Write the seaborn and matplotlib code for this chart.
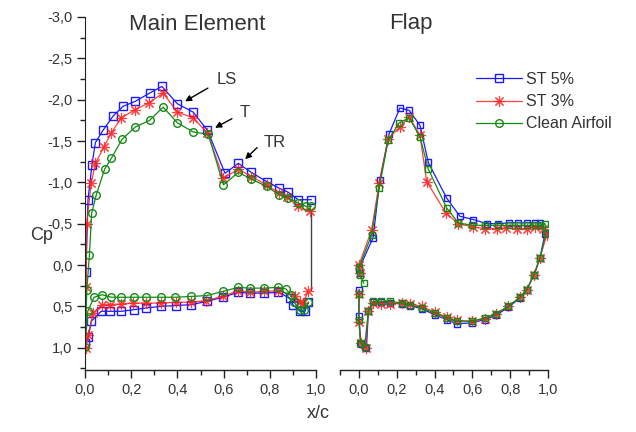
import matplotlib
matplotlib.use("Agg")
import matplotlib.pyplot as plt
import seaborn as sns
import pandas as pd
from matplotlib.ticker import MultipleLocator, FuncFormatter

# ---------------- data ----------------
series_names = ["ST 5%", "ST 3%", "Clean Airfoil"]

# Main element (lower TE -> LE -> upper TE)
main_st5_x = [0.967, 0.952, 0.93, 0.90, 0.887, 0.837, 0.775, 0.714, 0.664, 0.596, 0.527, 0.46, 0.395, 0.33,
              0.265, 0.212, 0.157, 0.11, 0.07, 0.027, 0.015, 0.0, 0.004, 0.013, 0.03, 0.045, 0.078, 0.121,
              0.165, 0.218, 0.28, 0.333, 0.40, 0.468, 0.53, 0.606, 0.664, 0.72, 0.786, 0.84, 0.88, 0.923, 0.98]
main_st5_y = [0.45, 0.56, 0.56, 0.48, 0.40, 0.33, 0.34, 0.34, 0.33, 0.39, 0.44, 0.48, 0.49, 0.50,
              0.52, 0.54, 0.56, 0.56, 0.56, 0.68, 0.87, 0.94, 0.09, -0.79, -1.21, -1.48, -1.63, -1.80,
              -1.92, -1.98, -2.08, -2.16, -1.95, -1.85, -1.63, -1.11, -1.23, -1.12, -1.01, -0.93, -0.88, -0.79, -0.79]

main_st3_x = [0.967, 0.945, 0.93, 0.91, 0.837, 0.775, 0.714, 0.664, 0.596, 0.525, 0.46, 0.395, 0.33, 0.265,
              0.208, 0.157, 0.11, 0.074, 0.035, 0.014, 0.003, 0.005, 0.007, 0.027, 0.045, 0.082, 0.114,
              0.157, 0.218, 0.276, 0.338, 0.40, 0.468, 0.53, 0.599, 0.664, 0.72, 0.786, 0.84, 0.876, 0.92, 0.974]
main_st3_y = [0.31, 0.46, 0.45, 0.38, 0.31, 0.32, 0.33, 0.31, 0.38, 0.43, 0.45, 0.45, 0.46, 0.46,
              0.46, 0.47, 0.48, 0.48, 0.58, 0.85, 1.00, 0.26, -0.50, -0.99, -1.23, -1.43, -1.60,
              -1.78, -1.88, -1.96, -2.08, -1.85, -1.78, -1.60, -1.05, -1.16, -1.07, -0.97, -0.87, -0.82, -0.71, -0.65]

main_clean_x = [0.967, 0.948, 0.93, 0.905, 0.89, 0.87, 0.837, 0.775, 0.714, 0.664, 0.596, 0.527, 0.46, 0.39,
                0.33, 0.265, 0.212, 0.157, 0.114, 0.074, 0.039, 0.012, 0.0, 0.008, 0.019, 0.029, 0.049,
                0.085, 0.114, 0.16, 0.218, 0.28, 0.338, 0.40, 0.468, 0.534, 0.599, 0.664, 0.72, 0.786,
                0.84, 0.88, 0.923, 0.957, 0.98]
main_clean_y = [0.45, 0.55, 0.54, 0.45, 0.36, 0.29, 0.27, 0.28, 0.28, 0.27, 0.32, 0.37, 0.38, 0.39,
                0.39, 0.39, 0.39, 0.39, 0.39, 0.36, 0.39, 0.56, 0.99, 0.30, -0.12, -0.63, -0.85,
                -1.16, -1.29, -1.52, -1.67, -1.75, -1.91, -1.72, -1.61, -1.58, -0.97, -1.12, -1.04, -0.95,
                -0.85, -0.81, -0.75, -0.71, -0.71]

# trailing-edge closure line of the main element
te_x = [0.977, 0.977]
te_y = [-0.66, 0.30]

# Flap (LE -> upper -> TE -> lower -> LE)
flap_st5_x = [0.005, 0.0, 0.075, 0.111, 0.16, 0.217, 0.266, 0.323, 0.367, 0.464, 0.534, 0.605, 0.676, 0.737,
              0.794, 0.843, 0.89, 0.93, 0.96, 0.984, 0.958, 0.926, 0.887, 0.852, 0.79, 0.725, 0.667, 0.596,
              0.517, 0.464, 0.40, 0.332, 0.27, 0.226, 0.164, 0.115, 0.076, 0.05, 0.04, 0.01, 0.0, 0.0]
flap_st5_y = [0.10, 0.05, -0.33, -1.03, -1.59, -1.90, -1.87, -1.69, -1.24, -0.81, -0.59, -0.55, -0.50, -0.50,
              -0.51, -0.51, -0.51, -0.51, -0.51, -0.38, -0.09, 0.12, 0.30, 0.40, 0.51, 0.61, 0.66, 0.70,
              0.71, 0.66, 0.60, 0.53, 0.49, 0.47, 0.46, 0.45, 0.45, 0.56, 1.00, 0.95, 0.62, 0.30]

flap_st3_x = [0.005, 0.0, 0.067, 0.107, 0.155, 0.217, 0.266, 0.323, 0.358, 0.46, 0.525, 0.605, 0.667, 0.728,
              0.78, 0.834, 0.887, 0.93, 0.975, 0.993, 0.958, 0.926, 0.887, 0.852, 0.79, 0.725, 0.667, 0.596,
              0.517, 0.464, 0.40, 0.332, 0.27, 0.226, 0.164, 0.115, 0.076, 0.05, 0.035, 0.01, 0.0, 0.0]
flap_st3_y = [0.10, 0.00, -0.42, -0.99, -1.53, -1.67, -1.79, -1.57, -1.01, -0.63, -0.50, -0.46, -0.44, -0.44,
              -0.45, -0.44, -0.44, -0.46, -0.44, -0.36, -0.09, 0.12, 0.30, 0.39, 0.50, 0.59, 0.65, 0.68,
              0.67, 0.63, 0.57, 0.50, 0.47, 0.46, 0.47, 0.47, 0.46, 0.56, 1.00, 0.94, 0.69, 0.35]

flap_clean_x = [0.026, 0.005, 0.0, 0.067, 0.107, 0.155, 0.213, 0.266, 0.323, 0.367, 0.464, 0.525, 0.60, 0.667,
                0.737, 0.795, 0.843, 0.89, 0.93, 0.96, 0.984, 0.99, 0.958, 0.926, 0.887, 0.852, 0.79, 0.725,
                0.667, 0.596, 0.517, 0.464, 0.40, 0.332, 0.27, 0.226, 0.164, 0.115, 0.076, 0.05, 0.03,
                0.008, 0.0, 0.0]
flap_clean_y = [0.22, 0.12, 0.03, -0.36, -0.93, -1.51, -1.72, -1.78, -1.55, -1.16, -0.69, -0.51, -0.48, -0.48,
                -0.48, -0.48, -0.48, -0.48, -0.48, -0.48, -0.50, -0.39, -0.09, 0.12, 0.30, 0.39, 0.50, 0.59,
                0.64, 0.68, 0.68, 0.64, 0.58, 0.52, 0.48, 0.46, 0.44, 0.44, 0.44, 0.56, 0.99,
                0.94, 0.67, 0.35]

x_ticks = [0.0, 0.2, 0.4, 0.6, 0.8, 1.0]
y_ticks = [-3.0, -2.5, -2.0, -1.5, -1.0, -0.5, 0.0, 0.5, 1.0]

annotations = [("LS", (0.433, -1.98), (0.532, -2.14), (0.615, -2.24)),
               ("T", (0.563, -1.66), (0.636, -1.77), (0.693, -1.84)),
               ("TR", (0.693, -1.28), (0.745, -1.42), (0.823, -1.48))]

# ---------------- style ----------------
sns.set_style("ticks")
plt.rcParams["font.family"] = ["Liberation Sans", "DejaVu Sans"]
txt_color = "#333333"

blue = "#1a1aff"
red = "#ff2020"
green = "#138a13"

styles = {
    "ST 5%": dict(color=blue, marker="s", ms=6, mfc="none", mec=blue, mew=1.0, lw=0.9),
    "ST 3%": dict(color=red, marker=(8, 2, 0), ms=8, mfc="none", mec=red, mew=0.8, lw=0.9, alpha=0.85),
    "Clean Airfoil": dict(color=green, marker="o", ms=5.5, mfc="none", mec=green, mew=1.0, lw=0.9),
}

fig = plt.figure(figsize=(6.36, 4.32), dpi=100)
fig.patch.set_facecolor("white")
ax1 = fig.add_axes([85 / 636, 62 / 432, 231 / 636, 353 / 432])
ax2 = fig.add_axes([340 / 636, 62 / 432, 208 / 636, 353 / 432])

main_data = {"ST 5%": (main_st5_x, main_st5_y),
             "ST 3%": (main_st3_x, main_st3_y),
             "Clean Airfoil": (main_clean_x, main_clean_y)}
flap_data = {"ST 5%": (flap_st5_x, flap_st5_y),
             "ST 3%": (flap_st3_x, flap_st3_y),
             "Clean Airfoil": (flap_clean_x, flap_clean_y)}

sns.lineplot(x=te_x, y=te_y, ax=ax1, color="#444444", lw=1.0, sort=False, estimator=None)

for name in series_names:
    xs, ys = main_data[name]
    df = pd.DataFrame({"x": xs, "y": ys})
    sns.lineplot(data=df, x="x", y="y", ax=ax1, sort=False, estimator=None,
                 label=name, **styles[name])
for name in series_names:
    xs, ys = flap_data[name]
    df = pd.DataFrame({"x": xs, "y": ys})
    st = dict(styles[name])
    if name == "Clean Airfoil":
        st["marker"] = "s"
        st["ms"] = 4.5
    if name == "ST 5%":
        st["ms"] = 5
    sns.lineplot(data=df, x="x", y="y", ax=ax2, sort=False, estimator=None, **st)

fmt = FuncFormatter(lambda v, p: ("%.1f" % v).replace(".", ",").replace("\u2212", "-"))

for ax, xlo in ((ax1, 0.0), (ax2, -0.1)):
    ax.set_xlim(xlo, 1.0)
    ax.set_ylim(1.27, -3.0)
    ax.set_xlabel("")
    ax.set_ylabel("")
    ax.xaxis.set_major_locator(MultipleLocator(0.2))
    ax.xaxis.set_minor_locator(MultipleLocator(0.1))
    ax.xaxis.set_major_formatter(fmt)
    for s in ("top", "right"):
        ax.spines[s].set_visible(False)
    ax.spines["bottom"].set_color("#222222")
    ax.spines["bottom"].set_linewidth(1.0)
    ax.tick_params(axis="x", which="major", length=6, width=1.0, color="#222222",
                   labelsize=10.5, labelcolor=txt_color, pad=3)
    ax.tick_params(axis="x", which="minor", length=3.5, width=1.0, color="#222222")
    ax.set_facecolor("white")
    if ax.get_legend():
        ax.get_legend().remove()

ax1.set_xticks(x_ticks)
ax1.set_yticks(y_ticks)
ax1.yaxis.set_minor_locator(MultipleLocator(0.25))
ax1.yaxis.set_major_formatter(fmt)
ax1.spines["left"].set_color("#222222")
ax1.tick_params(axis="y", which="major", length=6, width=1.0, color="#222222",
                labelsize=10.5, labelcolor=txt_color, pad=3)
ax1.tick_params(axis="y", which="minor", length=3.5, width=1.0, color="#222222")

ax2.set_xticks(x_ticks)
ax2.spines["left"].set_visible(False)
ax2.set_yticks([])
ax2.yaxis.set_minor_locator(plt.NullLocator())

for label, tip, start, tpos in annotations:
    ax1.annotate("", xy=tip, xytext=start,
                 arrowprops=dict(arrowstyle="-|>", color="black", lw=1.0,
                                 mutation_scale=9, shrinkA=0, shrinkB=0))
    ax1.text(tpos[0], tpos[1], label, fontsize=12, color=txt_color, ha="center", va="center")

fig.text(197 / 636, 1 - 24 / 432, "Main Element", fontsize=16, color=txt_color, ha="center", va="center")
fig.text(411 / 636, 1 - 24 / 432, "Flap", fontsize=16, color=txt_color, ha="center", va="center")
fig.text(42 / 636, 1 - 235 / 432, "Cp", fontsize=13, color=txt_color, ha="center", va="center")
fig.text(318 / 636, 1 - 414 / 432, "x/c", fontsize=13, color=txt_color, ha="center", va="center")

handles, labels = ax1.get_legend_handles_labels()
hl = [(h, l) for h, l in zip(handles, labels) if l in series_names]
fig.legend([h for h, l in hl], [l for h, l in hl], loc="upper left",
           bbox_to_anchor=(476 / 636, 1 - 72 / 432), frameon=False, fontsize=11.5,
           handlelength=2.9, handletextpad=0.25, labelspacing=0.45, labelcolor=txt_color,
           borderaxespad=0, borderpad=0)

fig.savefig("out.png", dpi=100, facecolor="white")
